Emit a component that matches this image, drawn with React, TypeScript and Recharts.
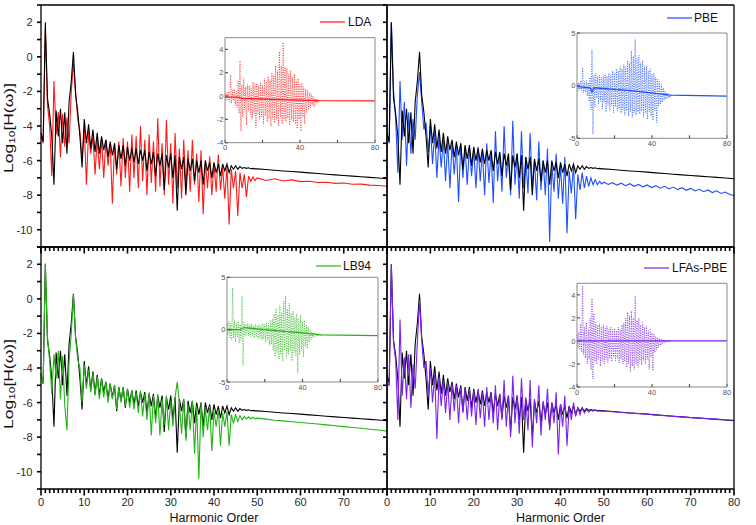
import React from 'react';
import { LineChart, Line, XAxis, YAxis, CartesianGrid } from 'recharts';

const W = 756;
const H = 525;
const FONT = "'Liberation Sans', Arial, Helvetica, sans-serif";
const AXIS = '#000000';
const LABEL = '#2a2a2a';

// ---------- harmonic-order grids ----------
// near-field samples are every 0.5 harmonic order from 0 to 50 (index i -> i/2)
const tail2X = [52, 54, 56, 58, 60, 62, 64, 66, 68, 70, 72, 74, 76, 78, 80];
const tail1X = [51, 52, 53, 54, 55, 56, 57, 58, 59, 60, 61, 62, 63, 64, 65, 66, 67, 68, 69, 70, 71, 72, 73, 74, 75, 76, 77, 78, 79, 80];

// ---------- reference spectrum (black, same in all panels) ----------
const refNear = [
  -4.4, -4.9, 2.0, -2.4, -3.3, -4.6, -7.4, -3.1, -4.6, -3.0, -5.0, -3.2, -5.6, -2.6, -1.4, 0.3, -2.2, -3.2, -4.6, -6.4,
  -3.6, -5.0, -3.9, -5.3, -4.2, -5.5, -4.4, -5.6, -4.6, -5.4,
  -4.8, -5.8, -4.9, -5.7, -5.0, -6.5, -5.1, -5.9, -5.1, -6.3,
  -5.2, -6.0, -5.3, -6.1, -5.3, -6.2, -5.4, -6.0, -5.4, -6.6,
  -5.5, -6.2, -5.5, -6.9, -5.6, -6.3, -5.6, -7.7, -5.7, -6.4,
  -5.6, -7.0, -5.7, -8.9, -5.8, -6.5, -5.8, -8.0, -5.9, -6.6,
  -5.9, -7.2, -6.0, -6.7, -6.0, -7.4, -6.0, -6.6, -6.1, -7.0,
  -6.1, -6.7, -6.2, -6.9, -6.2, -6.6, -6.2, -6.7, -6.3, -6.5,
  -6.3, -6.5, -6.35, -6.45, -6.4, -6.45, -6.42, -6.47, -6.45, -6.48,
  -6.48,
];
const refTail = [-6.52, -6.56, -6.6, -6.63, -6.67, -6.71, -6.75, -6.79, -6.83, -6.86, -6.9, -6.94, -6.97, -7.01, -7.05];

// ---------- LDA (red) ----------
const ldaNear = [
  -4.6, -5.0, 1.6, -2.8, -4.0, -6.9, -1.4, -4.5, -3.2, -5.8, -3.3, -5.2, -3.5, -5.0, -2.0, -0.4, -2.0, -3.6, -4.3, -6.0,
  -4.0, -7.4, -4.3, -5.6, -4.6, -6.8, -4.7, -6.5, -4.7, -7.0,
  -4.8, -6.3, -5.0, -8.5, -5.0, -6.8, -4.9, -7.5, -4.7, -7.0,
  -4.9, -7.8, -4.5, -7.0, -4.6, -7.6, -4.0, -7.2, -4.8, -8.0,
  -4.5, -7.3, -4.9, -7.8, -3.55, -7.5, -5.0, -8.0, -3.65, -7.4,
  -5.0, -8.5, -4.4, -7.6, -5.3, -8.2, -4.8, -7.5, -5.4, -7.8,
  -4.8, -7.4, -5.6, -8.4, -5.4, -9.1, -6.0, -7.6, -5.75, -8.0,
  -6.2, -7.8, -5.65, -7.7, -6.4, -8.2, -6.3, -9.7, -6.5, -7.6,
  -6.6, -9.2, -6.7, -7.6, -6.8, -8.1, -6.9, -7.2, -6.95, -7.15,
  -7.0,
];
const ldaTail = [-7.15, -7.05, -7.18, -7.12, -7.22, -7.2, -7.27, -7.25, -7.32, -7.3, -7.37, -7.36, -7.42, -7.44, -7.49];

// ---------- PBE (blue) ----------
const pbeNear = [
  -4.6, -5.0, 2.0, -1.9, -3.6, -6.7, -1.4, -4.8, -2.6, -6.3, -3.2, -5.6, -3.6, -4.8, -2.2, -0.9, -2.6, -4.2, -3.8, -5.5,
  -4.0, -6.2, -4.3, -7.0, -4.6, -6.4, -4.8, -7.2, -4.9, -7.6,
  -5.0, -6.8, -5.1, -8.4, -5.0, -7.0, -5.2, -7.4, -5.2, -6.9,
  -5.3, -7.6, -5.2, -7.2, -5.4, -8.0, -5.0, -7.3, -5.5, -8.45,
  -4.3, -7.2, -5.6, -7.8, -4.0, -7.0, -5.7, -8.0, -3.7, -7.4,
  -5.6, -8.2, -4.3, -7.6, -5.8, -7.9, -4.4, -7.5, -6.0, -8.3,
  -4.9, -7.7, -6.0, -8.0, -5.3, -10.7, -6.2, -7.8, -5.6, -8.2,
  -6.3, -8.5, -5.8, -10.2, -6.6, -7.9, -6.3, -9.4, -6.8, -7.7,
  -6.7, -7.6, -6.9, -7.5, -7.0, -7.4, -7.1, -7.4, -7.2, -7.35,
  -7.25,
];
const pbeTail = [
  -7.38, -7.28, -7.42, -7.31, -7.45, -7.34, -7.49, -7.38, -7.52, -7.41,
  -7.56, -7.45, -7.6, -7.49, -7.64, -7.53, -7.68, -7.57, -7.72, -7.61,
  -7.76, -7.66, -7.8, -7.7, -7.85, -7.75, -7.9, -7.82, -7.96, -8.02,
];

// ---------- LB94 (green) ----------
const lb94Near = [
  -4.3, -4.9, 2.05, -2.2, -3.6, -5.5, -3.2, -4.6, -3.0, -5.8, -3.3, -6.2, -7.6, -3.6, -2.0, 0.25, -2.3, -3.5, -4.0, -6.0,
  -3.8, -5.2, -4.1, -5.4, -4.3, -5.6, -4.5, -5.8, -4.6, -5.7,
  -4.8, -6.0, -4.9, -5.8, -5.0, -6.4, -5.1, -6.0, -5.1, -6.2,
  -5.2, -6.3, -5.3, -6.4, -5.4, -6.6, -5.3, -6.8, -5.5, -7.0,
  -5.4, -7.9, -5.6, -7.2, -5.5, -7.9, -5.8, -7.3, -5.6, -7.6,
  -5.9, -7.4, -5.7, -4.8, -6.0, -7.8, -5.8, -8.2, -6.1, -7.6,
  -5.9, -8.95, -6.2, -10.4, -6.0, -8.0, -6.3, -7.6, -6.2, -8.8,
  -6.5, -7.4, -6.4, -8.5, -6.6, -7.4, -6.5, -8.5, -6.7, -7.2,
  -6.7, -7.1, -6.75, -7.0, -6.8, -6.95, -6.82, -6.95, -6.85, -6.95,
  -6.9,
];
const lb94Tail = [-6.96, -7.02, -7.06, -7.11, -7.15, -7.2, -7.24, -7.29, -7.34, -7.39, -7.44, -7.49, -7.54, -7.59, -7.65];

// ---------- LFAs-PBE (purple) ----------
const lfasNear = [
  -4.9, -5.0, 2.0, -2.5, -3.6, -7.0, -1.2, -5.6, -3.4, -5.8, -3.2, -6.3, -3.8, -5.2, -2.5, -0.1, -2.4, -4.0, -3.6, -5.6,
  -4.0, -6.0, -4.3, -8.1, -4.5, -6.2, -4.7, -6.6, -4.8, -7.0,
  -4.9, -6.5, -5.0, -7.2, -5.1, -6.6, -5.2, -7.0, -5.2, -6.8,
  -5.3, -7.3, -5.2, -6.9, -5.4, -7.4, -5.1, -7.0, -5.5, -7.2,
  -5.0, -7.6, -5.5, -7.0, -4.7, -7.4, -5.6, -8.0, -4.45, -7.2,
  -5.6, -7.8, -4.6, -7.0, -5.7, -7.6, -4.7, -8.6, -5.8, -7.2,
  -5.0, -7.9, -5.9, -7.0, -5.2, -7.6, -6.0, -7.2, -5.4, -9.0,
  -6.1, -7.4, -5.6, -8.5, -6.2, -7.0, -6.0, -6.8, -6.3, -6.7,
  -6.3, -6.6, -6.4, -6.55, -6.45, -6.5, -6.45, -6.5, -6.47, -6.5,
  -6.5,
];
const lfasTail = [-6.53, -6.57, -6.6, -6.64, -6.68, -6.72, -6.76, -6.8, -6.83, -6.87, -6.9, -6.93, -6.96, -6.99, -7.02];

// ---------- insets: upper (at integer order) and lower (at order + 0.5) scatter extents ----------
const ldaInHi = [
  0.2, 0.3, 0.4, 1.8, 0.5, 0.6, 0.4, 1.3, 3.0, 1.0,
  1.5, 0.8, 1.0, 0.9, 0.7, 1.2, 1.0, 1.1, 0.9, 1.2,
  1.0, 1.5, 1.2, 1.7, 1.4, 2.0, 1.8, 2.6, 2.2, 3.8,
  2.6, 4.6, 2.5, 2.4, 1.9, 2.2, 1.6, 1.9, 1.3, 1.5,
  1.0, 1.1, 0.8, 0.6, 0.5, 0.3, 0.2, 0.0, -0.2, -0.3,
  -0.35,
];
const ldaInLo = [
  -0.4, -0.3, -0.5, -0.6, -0.4, -0.8, -1.0, -1.5, -3.0, -1.8,
  -1.2, -2.5, -1.3, -1.6, -2.0, -1.5, -2.7, -1.6, -2.0, -1.8,
  -2.4, -1.7, -2.2, -1.9, -2.6, -2.0, -2.3, -2.0, -2.6, -1.8,
  -2.4, -2.0, -2.2, -1.9, -2.5, -2.0, -2.2, -2.4, -2.8, -2.0,
  -3.0, -1.8, -2.4, -1.4, -1.2, -1.0, -0.8, -0.9, -0.7, -0.6,
  -0.55,
];
const ldaMidX = [0, 7, 9, 30, 50, 80];
const ldaMid = [-0.1, -0.1, -0.2, -0.3, -0.4, -0.42];

const pbeInHi = [
  0.2, 0.3, 0.5, 1.7, 0.4, 0.5, 0.3, 0.8, 3.4, 1.0,
  1.2, 0.9, 1.0, 0.8, 0.9, 1.1, 0.9, 1.2, 1.0, 1.4,
  1.2, 1.6, 1.4, 1.8, 1.6, 2.0, 1.8, 2.4, 2.2, 3.3,
  2.8, 4.4, 2.6, 2.9, 2.2, 2.4, 1.8, 1.9, 1.4, 1.6,
  1.1, 1.2, 0.8, 0.6, 0.4, 0.1, -0.2, -0.5, -0.7, -0.8,
  -0.9,
];
const pbeInLo = [
  -0.5, -0.4, -0.5, -0.7, -0.6, -1.0, -1.5, -2.3, -4.6, -2.0,
  -1.2, -1.8, -1.5, -2.2, -1.6, -2.5, -1.8, -2.3, -1.9, -2.6,
  -2.0, -2.4, -2.2, -2.6, -2.3, -2.8, -2.4, -2.9, -2.5, -3.0,
  -2.6, -2.8, -2.5, -2.7, -2.4, -3.0, -2.6, -3.2, -2.5, -2.9,
  -3.3, -2.4, -3.5, -2.0, -1.8, -1.6, -1.4, -1.3, -1.2, -1.15,
  -1.1,
];
const pbeMidX = [0, 7, 8, 9, 30, 50, 80];
const pbeMid = [-0.1, -0.2, -0.6, -0.2, -0.5, -0.9, -1.0];

const lb94InHi = [
  0.5, 0.8, 0.6, 4.0, 0.9, 0.6, 0.8, 0.5, 3.2, 0.7,
  0.5, 0.6, 0.5, 0.6, 0.4, 0.5, 0.4, 0.5, 0.4, 0.6,
  0.5, 0.7, 0.6, 0.9, 1.0, 1.5, 2.0, 1.4, 2.3, 1.6,
  2.7, 3.2, 2.0, 2.5, 1.6, 1.8, 1.2, 1.5, 1.0, 1.4,
  0.8, 0.9, 0.5, 0.3, 0.0, -0.2, -0.3, -0.4, -0.45, -0.5,
  -0.5,
];
const lb94InLo = [
  -0.5, -0.8, -1.0, -0.8, -1.2, -0.7, -1.3, -1.0, -3.4, -0.6,
  -0.5, -0.6, -0.7, -0.6, -0.8, -0.7, -0.9, -0.8, -1.0, -0.9,
  -1.2, -1.0, -1.5, -1.4, -2.0, -2.6, -2.2, -2.8, -2.4, -3.0,
  -2.0, -2.7, -2.4, -2.0, -3.0, -2.2, -2.5, -4.2, -2.4, -2.0,
  -2.6, -1.6, -1.8, -1.2, -1.0, -0.8, -0.7, -0.65, -0.6, -0.6,
  -0.6,
];
const lb94MidX = [0, 7, 9, 20, 40, 50, 80];
const lb94Mid = [0, 0, 0.2, 0, -0.3, -0.5, -0.58];

const lfasInHi = [
  0.5, 0.8, 1.5, 4.8, 1.2, 1.6, 1.0, 2.0, 3.7, 2.4,
  1.6, 1.4, 1.5, 1.2, 1.4, 1.1, 1.3, 1.0, 1.2, 1.0,
  1.1, 0.9, 1.2, 1.0, 1.4, 1.6, 2.0, 2.5, 2.2, 2.6,
  2.0, 3.9, 1.8, 2.0, 1.4, 1.6, 1.2, 1.3, 0.9, 1.0,
  0.7, 0.6, 0.4, 0.3, 0.2, 0.15, 0.1, 0.1, 0.05, 0.05,
  0.05,
];
const lfasInLo = [
  -0.6, -0.8, -1.0, -1.2, -1.5, -2.0, -1.6, -2.5, -3.3, -1.8,
  -2.0, -1.6, -2.2, -1.7, -2.0, -1.6, -1.9, -1.5, -1.8, -1.4,
  -1.7, -1.5, -1.9, -1.6, -2.0, -1.8, -2.3, -2.0, -2.7, -2.2,
  -2.5, -2.0, -2.3, -1.8, -2.1, -1.7, -2.0, -1.6, -2.5, -1.4,
  -2.6, -1.0, -0.8, -0.6, -0.4, -0.3, -0.2, -0.15, -0.1, -0.1,
  -0.05,
];
const lfasMidX = [0, 50, 80];
const lfasMid = [0, 0, 0];

// ---------- tick positions ----------
const mainXTicks = Array.from({ length: 81 }, (_, i) => i);
const mainYTicks = Array.from({ length: 15 }, (_, i) => i - 11);
const insetXTicks = [0, 20, 40, 60, 80];
const insetXLabels = [0, 40, 80];

type Pt = { x: number; y: number };

function buildSpectrum(near: number[], tailX: number[], tail: number[]): Pt[] {
  const pts: Pt[] = near.map((y, i) => ({ x: i / 2, y }));
  tailX.forEach((x, i) => pts.push({ x, y: tail[i] }));
  return pts;
}
function buildScatter(hi: number[], lo: number[]): Pt[] {
  const pts: Pt[] = [];
  hi.forEach((v, i) => {
    pts.push({ x: i, y: v });
    pts.push({ x: i + 0.5, y: lo[i] });
  });
  return pts;
}
function buildLine(xs: number[], ys: number[]): Pt[] {
  return xs.map((x, i) => ({ x, y: ys[i] }));
}

const refSeries = buildSpectrum(refNear, tail2X, refTail);

const TICK = 4; // native tick length (outward) of the main frames

// ---------- tick renderers (labels + longer majors) ----------
function mainXTick(side: 'top' | 'bottom', maxLabel: number) {
  return (props: any) => {
    const { x, y, payload } = props;
    const v = payload.value as number;
    const major = v % 10 === 0;
    const d = side === 'bottom' ? 1 : -1;
    return (
      <g>
        {major ? <path d={`M${x},${y}L${x},${y + d * 2.5}`} stroke={AXIS} strokeWidth={1.6} fill="none" /> : null}
        {major && v <= maxLabel ? (
          <text x={x} y={y + 12.5} textAnchor="middle" fontSize={11} fontFamily={FONT} fill={LABEL}>
            {v}
          </text>
        ) : null}
      </g>
    );
  };
}
function mainYTick(side: 'left' | 'right', labels: boolean) {
  return (props: any) => {
    const { x, y, payload } = props;
    const v = payload.value as number;
    const show = labels && v % 2 === 0 && v >= -10 && v <= 2;
    return (
      <g>
        {show ? (
          <text
            x={side === 'left' ? x - 4.5 : x - 1.5}
            y={y + 4}
            textAnchor={side === 'left' ? 'end' : 'start'}
            fontSize={11}
            fontFamily={FONT}
            fill={LABEL}
          >
            {v}
          </text>
        ) : null}
      </g>
    );
  };
}
function insetXTick(side: 'top' | 'bottom') {
  return (props: any) => {
    const { x, y, payload } = props;
    const v = payload.value as number;
    const show = side === 'bottom' && insetXLabels.includes(v);
    return (
      <g>
        {show ? (
          <text x={x} y={y + 10.5} textAnchor="middle" fontSize={7.5} fontFamily={FONT} fill="#555">
            {v}
          </text>
        ) : null}
      </g>
    );
  };
}
function insetYTick(side: 'left' | 'right') {
  return (props: any) => {
    const { x, y, payload } = props;
    const v = payload.value as number;
    return (
      <g>
        {side === 'left' ? (
          <text x={x - 4.5} y={y + 2.7} textAnchor="end" fontSize={7.5} fontFamily={FONT} fill="#555">
            {v}
          </text>
        ) : null}
      </g>
    );
  };
}

type Box = { l: number; r: number; t: number; b: number };

// axes get a 1px band; margins are reduced by that so the plot box stays exact
const AX = 1;
function marginFor(box: Box) {
  return { left: box.l - AX, right: W - box.r - AX, top: box.t - AX, bottom: H - box.b - AX };
}

type PanelProps = {
  box: Box;
  series: Pt[];
  color: string;
  name: string;
  blackOnTop: boolean;
  ySide: 'left' | 'right';
  xMaxLabel: number;
};

function MainPanel(p: PanelProps) {
  const colored = (
    <Line
      key="c"
      xAxisId="b"
      yAxisId="l"
      data={p.series}
      dataKey="y"
      name={p.name}
      type="linear"
      stroke={p.color}
      strokeWidth={1.1}
      dot={false}
      activeDot={false}
      isAnimationActive={false}
    />
  );
  const black = (
    <Line
      key="k"
      xAxisId="b"
      yAxisId="l"
      data={refSeries}
      dataKey="y"
      name="reference"
      type="linear"
      stroke="#000"
      strokeWidth={1.1}
      dot={false}
      activeDot={false}
      legendType="none"
      isAnimationActive={false}
    />
  );
  const axisLine = { stroke: AXIS, strokeWidth: 1.3 };
  const tickLine = { stroke: AXIS, strokeWidth: 1.6 };
  return (
    <div style={{ position: 'absolute', left: 0, top: 0 }}>
      <LineChart width={W} height={H} margin={marginFor(p.box)}>
        <XAxis xAxisId="b" type="number" dataKey="x" domain={[0, 80]} ticks={mainXTicks} interval={0}
          orientation="bottom" height={AX} tickSize={TICK} tickMargin={0} tickLine={tickLine} axisLine={axisLine}
          tick={mainXTick('bottom', p.xMaxLabel)} />
        <XAxis xAxisId="t" type="number" dataKey="x" domain={[0, 80]} ticks={mainXTicks} interval={0}
          orientation="top" height={AX} tickSize={TICK} tickMargin={0} tickLine={tickLine} axisLine={axisLine}
          tick={mainXTick('top', -1)} />
        <YAxis yAxisId="l" type="number" domain={[-11, 3]} ticks={mainYTicks} interval={0}
          orientation="left" width={AX} tickSize={TICK} tickMargin={0} tickLine={tickLine} axisLine={axisLine}
          tick={mainYTick('left', p.ySide === 'left')} />
        <YAxis yAxisId="r" type="number" domain={[-11, 3]} ticks={mainYTicks} interval={0}
          orientation="right" width={AX} tickSize={TICK} tickMargin={0} tickLine={tickLine} axisLine={axisLine}
          tick={mainYTick('right', p.ySide === 'right')} />
        {p.blackOnTop ? [colored, black] : [black, colored]}
      </LineChart>
    </div>
  );
}

type InsetProps = {
  box: Box;
  scatter: Pt[];
  mid: Pt[];
  color: string;
  yDomain: [number, number];
  yTicks: number[];
};

function Inset(p: InsetProps) {
  const axisLine = { stroke: '#888', strokeWidth: 1 };
  const tickLine = { stroke: '#555', strokeWidth: 1.2 };
  return (
    <div style={{ position: 'absolute', left: 0, top: 0 }}>
      <LineChart width={W} height={H} margin={marginFor(p.box)}>
        <CartesianGrid xAxisId="b" yAxisId="l" horizontal={false} vertical={false} fill="#ffffff" />
        <XAxis xAxisId="b" type="number" dataKey="x" domain={[0, 80]} ticks={insetXTicks} interval={0} mirror
          orientation="bottom" height={AX} tickSize={3} tickMargin={0} tickLine={tickLine} axisLine={axisLine}
          tick={insetXTick('bottom')} />
        <XAxis xAxisId="t" type="number" dataKey="x" domain={[0, 80]} ticks={insetXTicks} interval={0} mirror
          orientation="top" height={AX} tickSize={3} tickMargin={0} tickLine={tickLine} axisLine={axisLine}
          tick={insetXTick('top')} />
        <YAxis yAxisId="l" type="number" domain={p.yDomain} ticks={p.yTicks} interval={0} mirror
          orientation="left" width={AX} tickSize={3} tickMargin={0} tickLine={tickLine} axisLine={axisLine}
          tick={insetYTick('left')} />
        <YAxis yAxisId="r" type="number" domain={p.yDomain} ticks={p.yTicks} interval={0} mirror
          orientation="right" width={AX} tickSize={3} tickMargin={0} tickLine={tickLine} axisLine={axisLine}
          tick={insetYTick('right')} />
        <Line xAxisId="b" yAxisId="l" data={p.scatter} dataKey="y" type="linear" stroke={p.color}
          strokeWidth={0.9} strokeDasharray="1 1.4" strokeOpacity={0.85} dot={false} activeDot={false}
          isAnimationActive={false} />
        <Line xAxisId="b" yAxisId="l" data={p.mid} dataKey="y" type="linear" stroke={p.color}
          strokeWidth={1.3} dot={false} activeDot={false} isAnimationActive={false} />
      </LineChart>
    </div>
  );
}

const RED = '#ff1a1a';
const BLUE = '#1f4fff';
const GREEN = '#22b414';
const PURPLE = '#7a22f0';

const legendItems = [
  { name: 'LDA', color: RED, x: 320, y: 22, tx: 348 },
  { name: 'PBE', color: BLUE, x: 667, y: 18, tx: 694 },
  { name: 'LB94', color: GREEN, x: 316, y: 266, tx: 343 },
  { name: 'LFAs-PBE', color: PURPLE, x: 644, y: 268, tx: 672 },
];

export default function App() {
  return (
    <div style={{ position: 'absolute', left: 0, top: 0, width: W, height: H, background: '#fff', fontFamily: FONT, overflow: 'hidden' }}>
      <MainPanel
        box={{ l: 41, r: 387, t: 5, b: 247 }}
        series={buildSpectrum(ldaNear, tail2X, ldaTail)}
        color={RED}
        name="LDA"
        blackOnTop={true}
        ySide="left"
        xMaxLabel={-1}
      />
      <MainPanel
        box={{ l: 387, r: 734, t: 5, b: 247 }}
        series={buildSpectrum(pbeNear, tail1X, pbeTail)}
        color={BLUE}
        name="PBE"
        blackOnTop={true}
        ySide="right"
        xMaxLabel={-1}
      />
      <MainPanel
        box={{ l: 41, r: 387, t: 247, b: 489 }}
        series={buildSpectrum(lb94Near, tail2X, lb94Tail)}
        color={GREEN}
        name="LB94"
        blackOnTop={false}
        ySide="left"
        xMaxLabel={70}
      />
      <MainPanel
        box={{ l: 387, r: 734, t: 247, b: 489 }}
        series={buildSpectrum(lfasNear, tail2X, lfasTail)}
        color={PURPLE}
        name="LFAs-PBE"
        blackOnTop={false}
        ySide="right"
        xMaxLabel={80}
      />
      <Inset
        box={{ l: 226, r: 374, t: 38.7, b: 141.7 }}
        scatter={buildScatter(ldaInHi, ldaInLo)}
        mid={buildLine(ldaMidX, ldaMid)}
        color={RED}
        yDomain={[-4, 5]}
        yTicks={[-4, -2, 0, 2, 4]}
      />
      <Inset
        box={{ l: 578, r: 726, t: 34, b: 137.3 }}
        scatter={buildScatter(pbeInHi, pbeInLo)}
        mid={buildLine(pbeMidX, pbeMid)}
        color={BLUE}
        yDomain={[-5, 5]}
        yTicks={[-5, 0, 5]}
      />
      <Inset
        box={{ l: 228, r: 377, t: 278.3, b: 381 }}
        scatter={buildScatter(lb94InHi, lb94InLo)}
        mid={buildLine(lb94MidX, lb94Mid)}
        color={GREEN}
        yDomain={[-5, 5]}
        yTicks={[-5, 0, 5]}
      />
      <Inset
        box={{ l: 578, r: 726, t: 284.3, b: 386 }}
        scatter={buildScatter(lfasInHi, lfasInLo)}
        mid={buildLine(lfasMidX, lfasMid)}
        color={PURPLE}
        yDomain={[-4, 5]}
        yTicks={[-4, -2, 0, 2, 4]}
      />
      <svg width={W} height={H} style={{ position: 'absolute', left: 0, top: 0, pointerEvents: 'none' }}>
        {legendItems.map((it) => (
          <g key={it.name}>
            <line x1={it.x} x2={it.x + 25} y1={it.y} y2={it.y} stroke={it.color} strokeWidth={1.2} />
            <text x={it.tx} y={it.y + 4.3} fontSize={12} fontFamily={FONT} fill="#111">
              {it.name}
            </text>
          </g>
        ))}
        <text
          transform="translate(12.5,128) rotate(-90)"
          textAnchor="middle"
          fontSize={12.5}
          fontFamily={FONT}
          fill="#111"
          textLength={90}
          lengthAdjust="spacingAndGlyphs"
        >
          Log<tspan fontSize={8.5} dy={2.5}>10</tspan>
          <tspan dy={-2.5}>[H(ω)]</tspan>
        </text>
        <text
          transform="translate(12.5,384) rotate(-90)"
          textAnchor="middle"
          fontSize={12.5}
          fontFamily={FONT}
          fill="#111"
          textLength={90}
          lengthAdjust="spacingAndGlyphs"
        >
          Log<tspan fontSize={8.5} dy={2.5}>10</tspan>
          <tspan dy={-2.5}>[H(ω)]</tspan>
        </text>
        <text x={214} y={522} textAnchor="middle" fontSize={12.5} fontFamily={FONT} fill="#111">
          Harmonic Order
        </text>
        <text x={560.5} y={522} textAnchor="middle" fontSize={12.5} fontFamily={FONT} fill="#111">
          Harmonic Order
        </text>
      </svg>
    </div>
  );
}
